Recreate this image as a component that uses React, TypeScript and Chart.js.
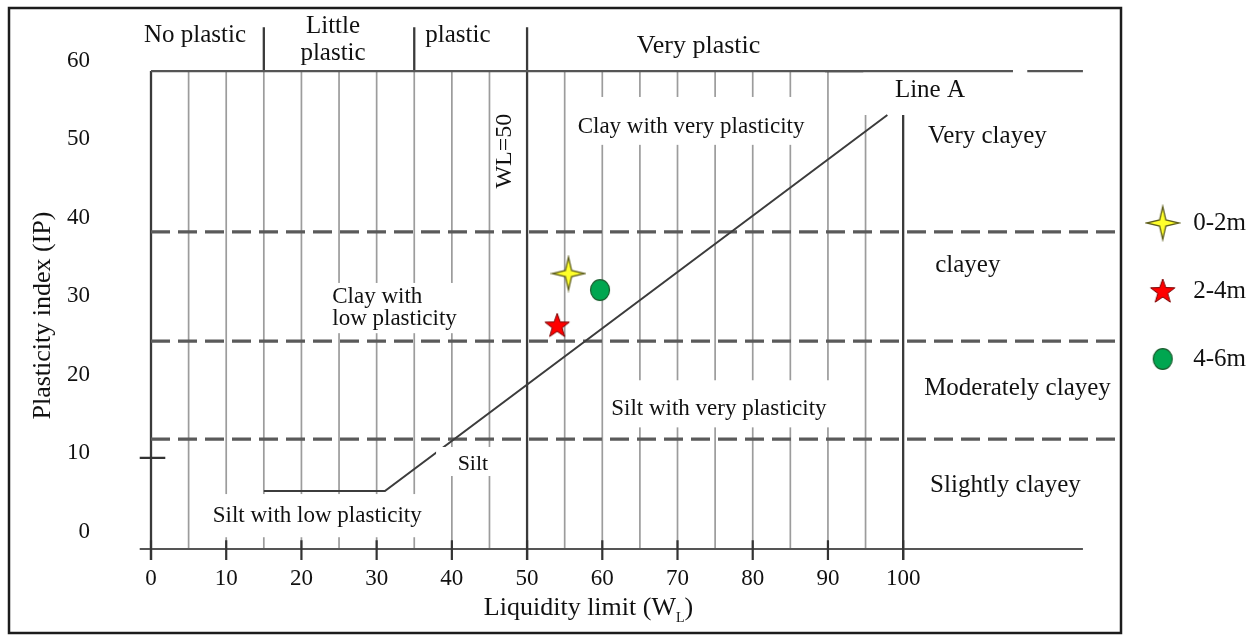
import React, { useEffect, useRef } from "react";
import { Chart, registerables } from "chart.js";

Chart.register(...registerables);

const FONT = '"Liberation Serif", "Times New Roman", Times, serif';

// ---- axis ticks ----
const xTickValues = [0, 10, 20, 30, 40, 50, 60, 70, 80, 90, 100];
const yTickValues = [0, 10, 20, 30, 40, 50, 60];

// ---- samples ----
const sampleLabels = ["0-2m", "2-4m", "4-6m"];
const sampleWL = [55.5, 54.0, 59.7];
const sampleIP = [32.9, 26.3, 30.8];

// ---- chart frame levels (IP) ----
const ipTopLine = 58.7;
const ipBottomLine = -2.2;
const ipHeader = 64.3;
const ipShortTop = 53.1;
const ipTickLow = -3.6;
const ipTickHigh = -1.1;

// ---- vertical lines (WL) ----
const grayGridWL = [5, 10, 15, 20, 25, 30, 35, 40, 45, 55, 60, 65, 70, 75, 80, 85, 90];
const grayShortWL = [95];
const darkFullWL = [0];
const darkTallWL = [50];
const darkShortWL = [100];
const headerDividerWL = [15, 35];

// ---- horizontal lines ----
const dashedIP = [38.2, 24.3, 11.8];
const dashedRangeWL = [0, 128.2];
const topLineSegs = [[0, 114.6], [116.5, 123.9]];
const topLineBoldSegs = [[89.6, 94.7]];
const bottomLineSeg = [[-1.5, 123.9]];
const yMinorTickIP = [9.4];
const yMinorTickSeg = [[-1.5, 1.9]];

// ---- Line A ----
const lineAWL = [15, 31.1, 97.9];
const lineAIP = [5.2, 5.2, 53.1];

type Pt = { x: number; y: number | null };
const vLines = (xs: number[], y1: number, y2: number): Pt[] =>
  xs.flatMap((x) => [{ x, y: y1 }, { x, y: y2 }, { x, y: null }]);
const hLines = (ys: number[], segs: number[][]): Pt[] =>
  ys.flatMap((y) => segs.flatMap(([a, b]) => [{ x: a, y }, { x: b, y }, { x: b, y: null }]));

type Note = {
  lines: string[];
  wl: number;
  ip: number;
  size: number;
  align?: CanvasTextAlign;
  lineGap?: number;
  rotate?: boolean;
  box?: [number, number, number, number];
};

const notes: Note[] = [
  { lines: ["No plastic"], wl: 5.85, ip: 62.4, size: 25 },
  { lines: ["Little", "plastic"], wl: 24.2, ip: 63.5, size: 25, lineGap: 27 },
  { lines: ["plastic"], wl: 40.8, ip: 62.4, size: 25 },
  { lines: ["Very plastic"], wl: 72.8, ip: 61.0, size: 26 },
  { lines: ["WL=50"], wl: 47.0, ip: 48.5, size: 24, rotate: true },
  { lines: ["Clay with very plasticity"], wl: 71.8, ip: 50.8, size: 23, box: [56.5, 88.5, 55.4, 49.3] },
  { lines: ["Line A"], wl: 98.9, ip: 55.4, size: 25, align: "left" },
  { lines: ["Very clayey"], wl: 111.2, ip: 49.5, size: 25 },
  { lines: ["clayey"], wl: 108.6, ip: 33.1, size: 25 },
  { lines: ["Moderately clayey"], wl: 115.2, ip: 17.4, size: 25 },
  { lines: ["Slightly clayey"], wl: 113.6, ip: 5.1, size: 25 },
  { lines: ["Clay with", "low plasticity"], wl: 24.1, ip: 29.1, size: 23, align: "left", lineGap: 22, box: [23.5, 40.8, 31.7, 25.3] },
  { lines: ["Silt with very plasticity"], wl: 75.5, ip: 14.9, size: 23, box: [61.0, 91.6, 19.3, 13.3] },
  { lines: ["Silt"], wl: 42.8, ip: 7.9, size: 22, box: [37.9, 46.1, 10.8, 7.1] },
  { lines: ["Silt with low plasticity"], wl: 22.1, ip: 1.24, size: 23, box: [6.5, 37.1, 4.8, -0.7] },
];

const LAYOUT = {
  xTitleCenter: 588.5,
  xTitleBaseline: 615,
  yTitleX: 50,
  yTitleCenter: 315.5,
  titleSize: 26,
  frame: { left: 9, top: 8, right: 1121, bottom: 633 },
};

function makeFourStar(): HTMLCanvasElement {
  const c = document.createElement("canvas");
  c.width = 36;
  c.height = 38;
  const g = c.getContext("2d")!;
  const cx = 18, cy = 19, R = 16.5, r = 4.4;
  g.beginPath();
  for (let i = 0; i < 8; i++) {
    const a = -Math.PI / 2 + (i * Math.PI) / 4;
    const rad = i % 2 === 0 ? R : r;
    const px = cx + Math.cos(a) * rad;
    const py = cy + Math.sin(a) * rad;
    if (i === 0) g.moveTo(px, py);
    else g.lineTo(px, py);
  }
  g.closePath();
  g.fillStyle = "#ffff2a";
  g.fill();
  g.lineWidth = 1.3;
  g.strokeStyle = "#5e5e1c";
  g.stroke();
  return c;
}

function makeFiveStar(): HTMLCanvasElement {
  const c = document.createElement("canvas");
  c.width = 28;
  c.height = 28;
  const g = c.getContext("2d")!;
  const cx = 14, cy = 14.8, R = 12.8, r = 5.2;
  g.beginPath();
  for (let i = 0; i < 10; i++) {
    const a = -Math.PI / 2 + (i * Math.PI) / 5;
    const rad = i % 2 === 0 ? R : r;
    const px = cx + Math.cos(a) * rad;
    const py = cy + Math.sin(a) * rad;
    if (i === 0) g.moveTo(px, py);
    else g.lineTo(px, py);
  }
  g.closePath();
  g.fillStyle = "#ff0000";
  g.fill();
  g.lineWidth = 1;
  g.strokeStyle = "#7a0000";
  g.stroke();
  return c;
}

function makeCircle(): HTMLCanvasElement {
  const c = document.createElement("canvas");
  c.width = 24;
  c.height = 26;
  const g = c.getContext("2d")!;
  g.beginPath();
  g.ellipse(12, 13, 9.5, 10.3, 0, 0, Math.PI * 2);
  g.fillStyle = "#00a650";
  g.fill();
  g.lineWidth = 1.2;
  g.strokeStyle = "#175c2c";
  g.stroke();
  return c;
}

const decorPlugin = {
  id: "decor",
  beforeDraw(chart: any) {
    const ctx = chart.ctx;
    ctx.save();
    ctx.fillStyle = "#fff";
    ctx.fillRect(0, 0, chart.width, chart.height);
    ctx.restore();
  },
  afterDatasetsDraw(chart: any) {
    const { ctx } = chart;
    const xs = chart.scales.x;
    const ys = chart.scales.y;
    ctx.save();
    ctx.fillStyle = "#fff";
    for (const n of notes) {
      if (!n.box) continue;
      const x1 = xs.getPixelForValue(n.box[0]);
      const x2 = xs.getPixelForValue(n.box[1]);
      const y1 = ys.getPixelForValue(n.box[2]);
      const y2 = ys.getPixelForValue(n.box[3]);
      ctx.fillRect(x1, y1, x2 - x1, y2 - y1);
    }
    ctx.fillStyle = "#111";
    for (const n of notes) {
      const px = xs.getPixelForValue(n.wl);
      const py = ys.getPixelForValue(n.ip);
      ctx.font = `${n.size}px ${FONT}`;
      if (n.rotate) {
        ctx.save();
        ctx.translate(px, py);
        ctx.rotate(-Math.PI / 2);
        ctx.textAlign = "center";
        ctx.textBaseline = "middle";
        ctx.fillText(n.lines[0], 0, 0);
        ctx.restore();
        continue;
      }
      ctx.textAlign = n.align ?? "center";
      ctx.textBaseline = "alphabetic";
      n.lines.forEach((t, k) => ctx.fillText(t, px, py + k * (n.lineGap ?? 0)));
    }
    // x axis title with subscript
    const main = "Liquidity limit (W";
    const sub = "L";
    const tail = ")";
    const ts = LAYOUT.titleSize;
    ctx.textAlign = "left";
    ctx.textBaseline = "alphabetic";
    ctx.font = `${ts}px ${FONT}`;
    const w1 = ctx.measureText(main).width;
    const w3 = ctx.measureText(tail).width;
    ctx.font = `14px ${FONT}`;
    const w2 = ctx.measureText(sub).width;
    let sx = LAYOUT.xTitleCenter - (w1 + w2 + w3) / 2;
    ctx.font = `${ts}px ${FONT}`;
    ctx.fillText(main, sx, LAYOUT.xTitleBaseline);
    sx += w1;
    ctx.font = `14px ${FONT}`;
    ctx.fillText(sub, sx, LAYOUT.xTitleBaseline + 7);
    sx += w2;
    ctx.font = `${ts}px ${FONT}`;
    ctx.fillText(tail, sx, LAYOUT.xTitleBaseline);
    // y axis title
    ctx.save();
    ctx.translate(LAYOUT.yTitleX, LAYOUT.yTitleCenter);
    ctx.rotate(-Math.PI / 2);
    ctx.textAlign = "center";
    ctx.textBaseline = "alphabetic";
    ctx.font = `${ts}px ${FONT}`;
    ctx.fillText("Plasticity index (IP)", 0, 0);
    ctx.restore();
    ctx.restore();
  },
  afterDraw(chart: any) {
    const ctx = chart.ctx;
    const f = LAYOUT.frame;
    ctx.save();
    ctx.strokeStyle = "#1c1c1c";
    ctx.lineWidth = 2.5;
    ctx.strokeRect(f.left, f.top, f.right - f.left, f.bottom - f.top);
    ctx.restore();
  },
};

const lineDs = (data: Pt[], color: string, width: number, dash: number[] = []) => ({
  label: "",
  data,
  showLine: true,
  borderColor: color,
  backgroundColor: color,
  borderWidth: width,
  borderDash: dash,
  pointRadius: 0,
  pointHoverRadius: 0,
  pointHitRadius: 0,
  clip: false as const,
  spanGaps: false,
  fill: false,
  tension: 0,
});

export default function App() {
  const ref = useRef<HTMLCanvasElement>(null);

  useEffect(() => {
    const canvas = ref.current;
    if (!canvas) return;
    const icons = [makeFourStar(), makeFiveStar(), makeCircle()];

    const pointSets = sampleLabels.map((label, i) => ({
      label,
      data: [{ x: sampleWL[i], y: sampleIP[i] }],
      pointStyle: icons[i],
      pointRadius: 10,
      pointHoverRadius: 10,
      showLine: false,
      backgroundColor: "#000",
      borderColor: "#000",
    }));

    const grayData = [
      ...vLines(grayGridWL, ipBottomLine, ipTopLine),
      ...vLines(grayShortWL, ipBottomLine, ipShortTop),
    ];
    const darkData = [
      ...vLines(darkFullWL, ipTickLow, ipTopLine),
      ...vLines(darkTallWL, ipTickLow, ipHeader),
      ...vLines(darkShortWL, ipTickLow, ipShortTop),
      ...vLines(headerDividerWL, ipTopLine, ipHeader),
      ...hLines([ipTopLine], topLineBoldSegs),
    ];
    const frameData = [
      ...hLines([ipTopLine], topLineSegs),
      ...hLines([ipBottomLine], bottomLineSeg),
    ];
    const tickData = [
      ...vLines(xTickValues, ipTickLow, ipTickHigh),
      ...hLines(yMinorTickIP, yMinorTickSeg),
    ];
    const dashedData = hLines(dashedIP, [dashedRangeWL]);
    const lineAData = lineAWL.map((x, i) => ({ x, y: lineAIP[i] }));

    Chart.defaults.font.family = FONT;
    Chart.defaults.color = "#111";

    const chart = new Chart(canvas, {
      type: "scatter",
      data: {
        datasets: [
          ...pointSets,
          lineDs(lineAData, "#3c3c3c", 2),
          lineDs(dashedData, "#5a5a5a", 3.2, [19, 8]),
          lineDs(tickData, "#333", 2.2),
          lineDs(frameData, "#555", 2.2),
          lineDs(darkData, "#3a3a3a", 2.3),
          lineDs(grayData, "#9c9c9c", 1.7),
        ] as any,
      },
      options: {
        responsive: false,
        animation: false,
        events: [],
        layout: { padding: { left: 8, top: 13, right: 4, bottom: 0 } },
        scales: {
          x: {
            type: "linear",
            min: 0,
            max: 126.4,
            grid: { display: false, drawTicks: false },
            border: { display: false },
            afterBuildTicks: (s: any) => {
              s.ticks = xTickValues.map((v) => ({ value: v }));
            },
            afterFit: (s: any) => {
              s.height = 86;
            },
            ticks: {
              font: { size: 23, family: FONT },
              color: "#111",
              padding: 16,
              maxRotation: 0,
              autoSkip: false,
            },
          },
          y: {
            type: "linear",
            min: -2.2,
            max: 66.1,
            grid: { display: false, drawTicks: false },
            border: { display: false },
            afterBuildTicks: (s: any) => {
              s.ticks = yTickValues.map((v) => ({ value: v }));
            },
            afterFit: (s: any) => {
              s.width = 143;
              s.paddingTop = 0;
              s.paddingBottom = 0;
            },
            ticks: {
              font: { size: 23, family: FONT },
              color: "#111",
              padding: 61,
              autoSkip: false,
            },
          },
        },
        plugins: {
          tooltip: { enabled: false },
          legend: {
            position: "right",
            align: "center",
            fullSize: false,
            title: { display: true, text: "", font: { size: 16, lineHeight: 1.25 }, padding: 0 },
            labels: {
              usePointStyle: true,
              pointStyleWidth: 36,
              padding: 43,
              color: "#111",
              font: { size: 25, family: FONT },
              filter: (item: any) => item.datasetIndex < sampleLabels.length,
            },
          },
        },
      },
      plugins: [decorPlugin],
    });
    return () => chart.destroy();
  }, []);

  return (
    <div style={{ position: "absolute", left: 0, top: 0, width: 1260, height: 635, background: "#fff" }}>
      <canvas ref={ref} width={1260} height={635} style={{ display: "block", width: 1260, height: 635 }} />
    </div>
  );
}
